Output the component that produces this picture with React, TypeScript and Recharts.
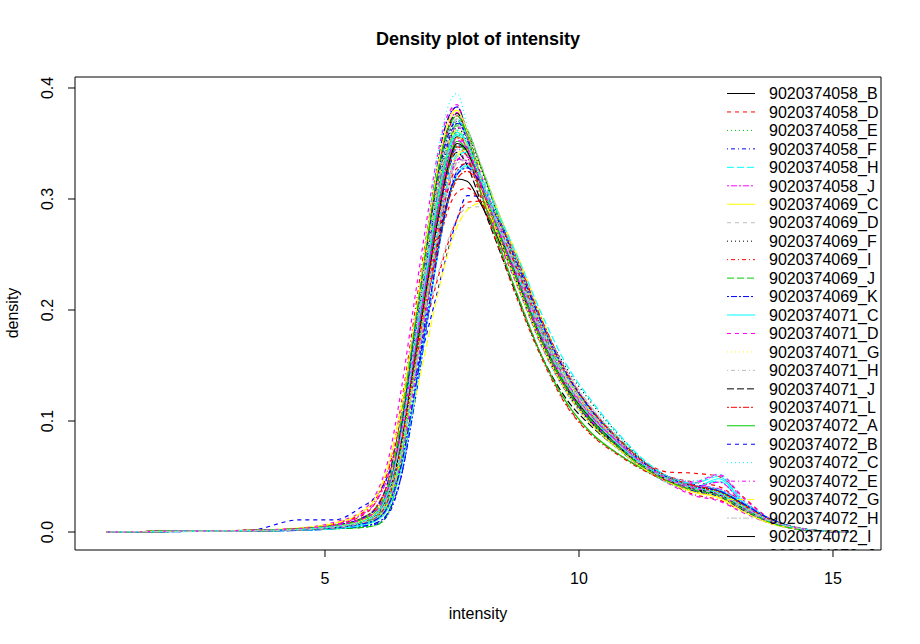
import React from 'react';
import { LineChart, Line, XAxis, YAxis, ReferenceArea } from 'recharts';

// intensity grid at which each density curve is read
const intensityGrid = [0.7, 2.0, 3.5, 4.5, 5.2, 5.7, 6.0, 6.25, 6.5, 6.75, 7.0, 7.2, 7.4, 7.6, 7.8, 8.05, 8.4, 8.8, 9.25, 9.75, 10.25, 10.75, 11.25, 11.75, 12.25, 12.75, 13.25, 13.75, 14.25, 14.75, 15.3];

const sampleNames = [
  '9020374058_B', '9020374058_D', '9020374058_E', '9020374058_F', '9020374058_H', '9020374058_J',
  '9020374069_C', '9020374069_D', '9020374069_F', '9020374069_I', '9020374069_J', '9020374069_K',
  '9020374071_C', '9020374071_D', '9020374071_G', '9020374071_H', '9020374071_J', '9020374071_L',
  '9020374072_A', '9020374072_B', '9020374072_C', '9020374072_E', '9020374072_G', '9020374072_H',
  '9020374072_I', '9020374072_J', '9020374072_K', '9020374072_L', '9020374073_A', '9020374073_B',
  '9020374073_C', '9020374073_D', '9020374073_E', '9020374073_F', '9020374073_G', '9020374073_H',
  '9020374073_I', '9020374073_J', '9020374073_K', '9020374073_L', '9020374074_A', '9020374074_B',
  '9020374074_C', '9020374074_D', '9020374074_E', '9020374074_F', '9020374074_G', '9020374074_H',
  '9020374074_I', '9020374074_J', '9020374074_K', '9020374074_L', '9020374075_A', '9020374075_B',
  '9020374075_C', '9020374075_D', '9020374075_E', '9020374075_F', '9020374075_G', '9020374075_H',
  '9020374075_I', '9020374075_J', '9020374075_K', '9020374075_L',
];

const xTicks = [5, 10, 15];
const yTicks = [0, 0.1, 0.2, 0.3, 0.4];

const d058B = [0, .0006, .0012, .0025, .005, .009, .015, .034, .082, .155, .228, .285, .333, .356, .347, .318, .275, .228, .176, .131, .101, .079, .06, .047, .039, .034, .021, .01, .004, .001, 0];
const d058D = [0, .0008, .0015, .003, .007, .014, .027, .056, .1, .148, .19, .225, .257, .282, .297, .298, .282, .245, .19, .14, .106, .081, .06, .05, .045, .041, .026, .012, .004, .001, 0];
const d058E = [0, .0005, .001, .002, .003, .004, .006, .018, .068, .152, .236, .3, .348, .37, .356, .322, .272, .225, .174, .13, .1, .078, .059, .046, .038, .033, .02, .009, .003, .001, 0];
const d058F = [0, .0006, .0012, .0025, .004, .007, .011, .025, .063, .128, .198, .255, .305, .335, .34, .318, .278, .232, .18, .134, .104, .081, .061, .048, .04, .035, .022, .01, .004, .001, 0];
const d058H = [0, .0008, .0015, .003, .006, .011, .018, .04, .09, .165, .238, .293, .34, .362, .35, .318, .272, .226, .175, .13, .1, .078, .058, .045, .04, .046, .024, .01, .004, .001, 0];
const d058J = [0, .0007, .0014, .003, .007, .015, .027, .052, .104, .182, .26, .318, .362, .378, .355, .315, .268, .222, .172, .128, .098, .077, .058, .045, .037, .032, .019, .009, .003, .001, 0];
const d069C = [0, .0005, .001, .002, .004, .006, .01, .024, .064, .132, .205, .262, .31, .338, .345, .33, .29, .245, .19, .14, .107, .083, .062, .048, .04, .036, .024, .011, .004, .001, 0];
const d069D = [0, .0008, .0015, .003, .006, .011, .02, .042, .085, .14, .19, .228, .26, .282, .292, .293, .28, .245, .192, .142, .108, .082, .062, .048, .04, .035, .024, .012, .005, .001, 0];
const d069F = [0, .0005, .001, .002, .004, .008, .013, .03, .075, .145, .215, .27, .32, .347, .342, .314, .273, .229, .178, .132, .102, .08, .06, .047, .039, .036, .024, .011, .004, .001, 0];
const d069I = [0, .0008, .0016, .003, .008, .016, .03, .058, .115, .192, .268, .325, .368, .383, .358, .316, .268, .222, .17, .127, .097, .076, .058, .045, .034, .029, .018, .008, .003, .001, 0];
const d069J = [0, .0005, .001, .002, .003, .004, .006, .018, .064, .145, .228, .293, .342, .366, .356, .322, .274, .227, .175, .13, .1, .078, .059, .046, .038, .034, .021, .01, .004, .001, 0];
const d069K = [0, .0004, .0008, .0015, .003, .005, .008, .018, .05, .112, .185, .245, .295, .325, .332, .318, .282, .238, .185, .136, .104, .081, .062, .049, .041, .037, .025, .012, .004, .001, 0];
const d071C = [0, .0006, .0012, .0025, .005, .009, .015, .035, .083, .158, .232, .288, .335, .358, .346, .316, .273, .227, .176, .131, .101, .079, .06, .046, .04, .048, .026, .01, .003, .001, 0];
const d071D = [0, .0008, .0016, .0035, .009, .018, .034, .066, .128, .205, .28, .336, .374, .385, .356, .312, .265, .22, .169, .126, .097, .076, .058, .044, .033, .028, .017, .008, .003, .001, 0];
const d071G = [0, .0006, .0012, .0025, .005, .01, .018, .038, .08, .14, .2, .25, .293, .318, .325, .312, .28, .237, .185, .137, .105, .082, .062, .049, .041, .037, .025, .012, .004, .001, 0];
const d071H = [0, .0005, .001, .002, .004, .007, .012, .03, .077, .15, .222, .278, .326, .35, .343, .315, .273, .228, .177, .132, .102, .08, .06, .047, .039, .035, .022, .01, .004, .001, 0];
const d071J = [0, .0006, .0012, .0025, .005, .009, .015, .033, .08, .152, .222, .277, .322, .342, .33, .3, .258, .21, .16, .12, .095, .076, .059, .047, .04, .036, .023, .011, .004, .001, 0];
const d071L = [0, .0007, .0014, .003, .006, .012, .021, .047, .105, .182, .258, .315, .358, .375, .356, .318, .27, .223, .172, .128, .098, .077, .058, .045, .037, .032, .02, .009, .003, .001, 0];
const d072A = [0, .0005, .001, .002, .004, .007, .011, .026, .07, .145, .225, .29, .34, .368, .362, .332, .286, .236, .182, .134, .103, .08, .061, .048, .04, .035, .022, .01, .004, .001, 0];
const d072B = [0, .0008, .0015, .011, .011, .022, .032, .052, .09, .135, .178, .214, .25, .282, .303, .302, .283, .243, .19, .141, .107, .083, .063, .05, .043, .038, .025, .012, .004, .001, 0];
const d072C = [0, .0005, .001, .002, .004, .008, .014, .036, .092, .178, .268, .335, .38, .395, .365, .318, .268, .22, .168, .125, .096, .075, .057, .044, .036, .031, .018, .008, .003, .001, 0];
const d072E = [0, .0007, .0014, .003, .006, .011, .018, .038, .085, .155, .224, .277, .322, .345, .338, .308, .266, .222, .172, .128, .099, .078, .059, .048, .044, .051, .028, .012, .004, .001, 0];
const d072G = [0, .0005, .001, .002, .004, .008, .014, .03, .065, .115, .168, .21, .248, .275, .29, .296, .285, .248, .195, .143, .108, .083, .063, .049, .041, .036, .024, .011, .004, .001, 0];
const d072H = [0, .0006, .0012, .0025, .005, .009, .015, .032, .075, .14, .207, .26, .307, .332, .335, .312, .275, .232, .18, .134, .104, .081, .061, .048, .04, .034, .02, .009, .003, .001, 0];
const d072I = [0, .0006, .0012, .0025, .005, .009, .016, .036, .08, .142, .205, .255, .297, .318, .316, .297, .265, .225, .176, .132, .103, .08, .061, .048, .041, .037, .025, .012, .004, .001, 0];
const d072J = [0, .0006, .0012, .0025, .005, .01, .018, .04, .085, .145, .205, .25, .287, .306, .31, .298, .27, .23, .18, .135, .104, .08, .064, .054, .053, .05, .031, .012, .004, .001, 0];
const d072K = [0, .0005, .001, .002, .004, .008, .013, .031, .079, .155, .232, .29, .338, .36, .35, .318, .273, .227, .176, .131, .101, .079, .06, .047, .039, .035, .022, .01, .004, .001, 0];
const d072L = [0, .0004, .0008, .0015, .003, .005, .007, .016, .05, .12, .2, .265, .318, .348, .345, .318, .277, .231, .178, .132, .102, .08, .061, .048, .04, .036, .024, .011, .004, .001, 0];
const d073A = [0, .0006, .0012, .0025, .005, .009, .016, .038, .092, .172, .25, .31, .355, .372, .356, .32, .271, .224, .173, .129, .099, .077, .058, .046, .038, .033, .02, .009, .003, .001, 0];
const d073B = [0, .0006, .0012, .0025, .005, .009, .015, .033, .077, .145, .212, .265, .312, .336, .334, .31, .272, .229, .178, .133, .103, .081, .062, .049, .042, .039, .026, .012, .004, .001, 0];
const d073C = [0, .0005, .001, .002, .004, .007, .012, .028, .072, .145, .218, .277, .328, .355, .35, .32, .277, .231, .178, .132, .102, .079, .06, .047, .039, .034, .022, .01, .004, .001, 0];
const d073D = [0, .0006, .0012, .0025, .005, .009, .016, .035, .078, .14, .202, .254, .3, .325, .328, .31, .276, .234, .183, .136, .105, .082, .062, .049, .041, .036, .023, .011, .004, .001, 0];
const d073E = [0, .0006, .0012, .0025, .005, .01, .017, .04, .095, .172, .248, .308, .352, .372, .36, .33, .285, .238, .19, .148, .116, .089, .065, .048, .038, .032, .019, .009, .003, .001, 0];
const d073F = [0, .0005, .001, .002, .004, .008, .014, .033, .085, .163, .24, .298, .343, .36, .345, .308, .262, .212, .16, .115, .088, .071, .057, .046, .039, .035, .023, .011, .004, .001, 0];
const d073G = [0, .0007, .0014, .003, .006, .012, .022, .046, .095, .162, .228, .28, .324, .348, .342, .315, .276, .232, .182, .14, .11, .086, .064, .049, .04, .035, .022, .01, .004, .001, 0];
const d073H = [0, .0005, .001, .002, .004, .008, .014, .037, .095, .178, .262, .327, .37, .383, .36, .32, .272, .224, .172, .128, .098, .076, .058, .045, .037, .033, .02, .009, .003, .001, 0];
const d073I = [0, .0004, .0008, .0016, .003, .006, .01, .022, .057, .118, .188, .245, .293, .322, .33, .316, .283, .24, .188, .141, .108, .084, .064, .05, .042, .038, .026, .012, .004, .001, 0];
const d073J = [0, .0006, .0012, .0025, .005, .009, .015, .036, .088, .165, .24, .3, .345, .365, .355, .325, .28, .234, .184, .142, .11, .085, .063, .05, .045, .052, .03, .012, .004, .001, 0];
const d073K = [0, .0009, .0018, .004, .009, .018, .032, .062, .115, .18, .243, .292, .333, .355, .345, .312, .27, .224, .172, .128, .098, .077, .058, .046, .038, .033, .021, .01, .004, .001, 0];
const d073L = [0, .0005, .001, .002, .004, .007, .012, .028, .07, .137, .205, .262, .31, .338, .34, .318, .28, .236, .185, .14, .108, .083, .062, .048, .04, .034, .021, .01, .004, .001, 0];
const d074A = [0, .0006, .0012, .0025, .005, .01, .018, .042, .1, .18, .258, .318, .36, .377, .36, .322, .274, .226, .174, .13, .1, .078, .059, .046, .038, .034, .021, .01, .004, .001, 0];
const d074B = [0, .0007, .0014, .003, .006, .012, .022, .045, .09, .148, .205, .252, .293, .318, .325, .312, .282, .243, .193, .145, .11, .085, .064, .05, .042, .037, .024, .011, .004, .001, 0];
const d074C = [0, .0005, .001, .002, .004, .008, .013, .031, .078, .15, .222, .279, .327, .352, .343, .308, .262, .212, .16, .117, .089, .071, .057, .047, .04, .036, .024, .011, .004, .001, 0];
const d074D = [0, .0006, .0012, .0025, .005, .009, .016, .037, .09, .168, .245, .304, .348, .368, .356, .322, .276, .23, .178, .134, .103, .08, .06, .047, .039, .034, .021, .01, .004, .001, 0];
const d074E = [0, .0006, .0012, .0025, .005, .01, .017, .037, .084, .153, .22, .275, .322, .345, .34, .314, .276, .233, .184, .142, .112, .087, .065, .05, .046, .052, .028, .012, .004, .001, 0];
const d074F = [0, .0005, .001, .002, .004, .007, .011, .025, .065, .132, .202, .26, .308, .335, .338, .316, .278, .234, .182, .136, .105, .082, .062, .048, .04, .035, .022, .01, .004, .001, 0];
const d074G = [0, .0008, .0016, .0035, .008, .017, .031, .06, .112, .183, .253, .305, .345, .362, .347, .312, .268, .222, .171, .127, .097, .076, .058, .045, .037, .032, .02, .009, .003, .001, 0];
const d074H = [0, .0005, .001, .002, .004, .008, .013, .033, .086, .166, .248, .31, .355, .372, .362, .334, .29, .242, .19, .146, .112, .085, .062, .047, .038, .033, .02, .009, .003, .001, 0];
const d074I = [0, .0006, .0012, .0025, .005, .009, .015, .034, .08, .15, .22, .276, .325, .35, .343, .314, .272, .226, .175, .131, .101, .079, .06, .047, .039, .034, .021, .01, .004, .001, 0];
const d074J = [0, .0007, .0014, .003, .006, .011, .019, .04, .083, .145, .208, .26, .305, .328, .332, .312, .277, .235, .186, .142, .11, .085, .064, .05, .042, .037, .024, .011, .004, .001, 0];
const d074K = [0, .0005, .001, .002, .003, .004, .006, .017, .065, .148, .228, .288, .335, .358, .35, .318, .274, .228, .176, .132, .102, .08, .061, .048, .04, .035, .022, .01, .004, .001, 0];
const d074L = [0, .0007, .0014, .003, .006, .012, .021, .047, .104, .18, .255, .313, .354, .37, .354, .318, .27, .223, .172, .128, .098, .077, .058, .045, .037, .032, .019, .009, .003, .001, 0];
const d075A = [0, .0005, .001, .002, .004, .007, .012, .028, .07, .138, .208, .265, .313, .34, .342, .322, .288, .247, .198, .151, .118, .09, .066, .05, .044, .05, .026, .01, .004, .001, 0];
const d075B = [0, .0006, .0012, .0025, .005, .009, .016, .036, .085, .157, .228, .284, .332, .355, .346, .315, .272, .226, .175, .13, .1, .078, .059, .047, .04, .045, .025, .01, .004, .001, 0];
const d075C = [0, .0006, .0012, .0025, .005, .01, .018, .043, .102, .184, .264, .324, .366, .38, .36, .32, .27, .222, .171, .127, .097, .076, .058, .045, .036, .031, .018, .008, .003, .001, 0];
const d075D = [0, .0006, .0012, .0025, .005, .009, .015, .032, .074, .14, .206, .26, .308, .333, .336, .314, .276, .233, .182, .137, .106, .082, .062, .048, .04, .035, .023, .011, .004, .001, 0];
const d075E = [0, .0006, .0012, .0025, .005, .009, .015, .036, .088, .165, .242, .302, .346, .364, .352, .318, .27, .222, .171, .127, .098, .077, .059, .047, .039, .034, .021, .01, .004, .001, 0];
const d075F = [0, .0005, .001, .002, .004, .008, .013, .03, .076, .146, .217, .274, .323, .347, .338, .304, .258, .208, .158, .114, .087, .07, .056, .046, .04, .036, .024, .011, .004, .001, 0];
const d075G = [0, .0007, .0014, .003, .006, .011, .019, .043, .1, .18, .258, .318, .36, .375, .358, .32, .272, .225, .174, .13, .1, .078, .059, .046, .038, .033, .02, .009, .003, .001, 0];
const d075H = [0, .0005, .001, .002, .004, .007, .011, .024, .06, .122, .19, .246, .295, .322, .328, .315, .282, .24, .19, .143, .109, .084, .063, .049, .041, .037, .025, .012, .004, .001, 0];
const d075I = [0, .0006, .0012, .0025, .005, .009, .016, .037, .087, .162, .236, .295, .34, .36, .35, .32, .276, .23, .179, .134, .103, .08, .061, .048, .04, .035, .022, .01, .004, .001, 0];
const d075J = [0, .0007, .0014, .003, .006, .011, .019, .041, .09, .16, .228, .282, .33, .353, .345, .316, .274, .229, .178, .134, .104, .082, .062, .048, .04, .034, .021, .01, .004, .001, 0];
const d075K = [0, .0006, .0012, .0025, .005, .009, .015, .033, .077, .145, .213, .268, .317, .342, .344, .32, .282, .238, .186, .141, .108, .084, .063, .049, .041, .036, .023, .011, .004, .001, 0];
const d075L = [0, .0005, .001, .002, .004, .008, .014, .034, .086, .164, .242, .302, .347, .366, .356, .324, .278, .231, .179, .134, .103, .08, .06, .047, .039, .034, .021, .01, .004, .001, 0];

const densityValues = [
  d058B, d058D, d058E, d058F, d058H, d058J,
  d069C, d069D, d069F, d069I, d069J, d069K,
  d071C, d071D, d071G, d071H, d071J, d071L,
  d072A, d072B, d072C, d072E, d072G, d072H,
  d072I, d072J, d072K, d072L, d073A, d073B,
  d073C, d073D, d073E, d073F, d073G, d073H,
  d073I, d073J, d073K, d073L, d074A, d074B,
  d074C, d074D, d074E, d074F, d074G, d074H,
  d074I, d074J, d074K, d074L, d075A, d075B,
  d075C, d075D, d075E, d075F, d075G, d075H,
  d075I, d075J, d075K, d075L,
];

// R default palette and line types (cycled)
const palette = ['#000000', '#FF0000', '#00CD00', '#0000FF', '#00FFFF', '#FF00FF', '#FFFF00', '#BEBEBE'];
const ltyDash = [undefined, '4 4', '1 3', '1 3 4 3', '7 3', '2 2 6 2'];

const FONT = '"Liberation Sans", Arial, Helvetica, sans-serif';

const chartData = intensityGrid.map((x, i) => {
  const row: Record<string, number> = { x };
  sampleNames.forEach((n, j) => {
    row[n] = densityValues[j][i];
  });
  return row;
});

const XTick = (props: any) => {
  const { x, payload } = props;
  return (
    <text x={x} y={584} textAnchor="middle" fontSize={16} fontFamily={FONT} fill="#000">
      {payload.value}
    </text>
  );
};

const YTick = (props: any) => {
  const { y, payload } = props;
  return (
    <text x={53} y={y} transform={`rotate(-90, 53, ${y})`} textAnchor="middle" fontSize={16} fontFamily={FONT} fill="#000">
      {Number(payload.value).toFixed(1)}
    </text>
  );
};

const X_DOMAIN: [number, number] = [0.079, 15.945];
const Y_DOMAIN: [number, number] = [-0.0162, 0.4099];
const PLOT_BOTTOM = 550;

export default function App() {
  const legendTop = 93.5;
  const legendStep = 18.46;
  const legendRows = sampleNames
    .map((n, i) => ({ n, i, y: legendTop + i * legendStep }))
    .filter((r) => r.y - 12 < PLOT_BOTTOM);
  return (
    <div style={{ position: 'absolute', left: 0, top: 0, width: 920, height: 644, background: '#fff' }}>
      <LineChart width={920} height={644} data={chartData} margin={{ top: 77, right: 39, bottom: 0, left: 0 }}>
        <XAxis
          dataKey="x"
          type="number"
          domain={X_DOMAIN}
          ticks={xTicks}
          height={94}
          tickSize={7}
          axisLine={false}
          tickLine={{ stroke: '#000' }}
          tick={<XTick />}
          allowDataOverflow
        />
        <YAxis
          type="number"
          domain={Y_DOMAIN}
          ticks={yTicks}
          width={75}
          tickSize={7}
          axisLine={false}
          tickLine={{ stroke: '#000' }}
          tick={<YTick />}
          allowDataOverflow
        />
        {sampleNames.map((n, i) => (
          <Line
            key={n}
            dataKey={n}
            type="monotone"
            stroke={palette[i % 8]}
            strokeDasharray={ltyDash[i % 6]}
            strokeWidth={1.2}
            dot={false}
            activeDot={false}
            isAnimationActive={false}
          />
        ))}
        <ReferenceArea x1={X_DOMAIN[0]} x2={X_DOMAIN[1]} y1={Y_DOMAIN[0]} y2={Y_DOMAIN[1]} fill="none" stroke="#000" strokeWidth={1} ifOverflow="visible" />
      </LineChart>
      <svg width={920} height={644} style={{ position: 'absolute', left: 0, top: 0, pointerEvents: 'none' }}>
        <defs>
          <clipPath id="plotRegionClip">
            <rect x={75} y={77} width={806} height={473} />
          </clipPath>
        </defs>
        <text x={478} y={44.5} textAnchor="middle" fontSize={18} fontWeight="bold" fontFamily={FONT} fill="#000">
          Density plot of intensity
        </text>
        <text x={478} y={619} textAnchor="middle" fontSize={16} fontFamily={FONT} fill="#000">
          intensity
        </text>
        <text x={18} y={313} transform="rotate(-90, 18, 313)" textAnchor="middle" fontSize={16} fontFamily={FONT} fill="#000">
          density
        </text>
        <g clipPath="url(#plotRegionClip)">
          {legendRows.map(({ n, i, y }) => (
            <g key={n}>
              <line x1={727} x2={755} y1={y} y2={y} stroke={palette[i % 8]} strokeDasharray={ltyDash[i % 6]} strokeWidth={1} />
              <text x={769} y={y + 5.7} fontSize={16} fontFamily={FONT} fill="#000">
                {n}
              </text>
            </g>
          ))}
        </g>
      </svg>
    </div>
  );
}
